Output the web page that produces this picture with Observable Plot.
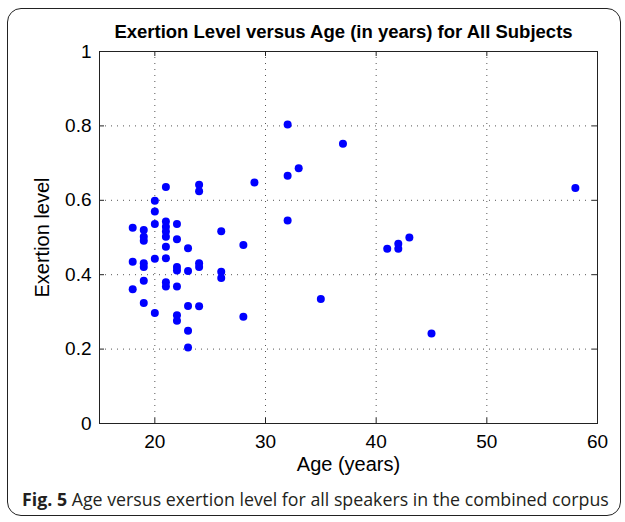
<!DOCTYPE html>
<html><head><meta charset="utf-8">
<script src="https://cdn.jsdelivr.net/npm/d3@7"></script>
<script src="https://cdn.jsdelivr.net/npm/@observablehq/plot@0.6"></script>
<style>
body{margin:0;background:#fff;}
#wrap{position:relative;width:625px;height:522px;overflow:hidden;font-family:"Liberation Sans",Arial,sans-serif;}
#box{position:absolute;left:7px;top:8px;width:614px;height:508px;border:1.5px solid #222;border-radius:14px;box-sizing:border-box;}
#title{position:absolute;left:80px;width:527px;top:21px;line-height:22px;text-align:center;font-weight:bold;font-size:18.5px;color:#000;white-space:nowrap;}
#plot{position:absolute;left:0;top:40px;}
#caption{position:absolute;left:22px;top:486px;line-height:26px;font-family:"Open Sans",sans-serif;font-size:17.8px;color:#231f20;white-space:nowrap;}
#caption b{font-weight:bold;}
</style></head>
<body><div id="wrap"><div id="box"></div>
<div id="title">Exertion Level versus Age (in years) for All Subjects</div>
<div id="plot"></div>
<div id="caption"><b>Fig. 5</b> Age versus exertion level for all speakers in the combined corpus</div>
</div>
<script>
const ages   = [21,24,24,20,20,20,21,21,21,22,18,19,19,19,21,22,26,21,23,18,19,19,20,21,22,22,23,24,24,26,26,19,21,21,22,18,19,23,24,20,22,22,23,23,32,37,33,32,29,32,28,35,28,41,42,42,43,45,58];
const levels = [0.636,0.642,0.624,0.599,0.570,0.536,0.543,0.529,0.516,0.536,0.526,0.520,0.502,0.491,0.502,0.495,0.517,0.475,0.471,0.435,0.431,0.421,0.443,0.444,0.421,0.411,0.410,0.431,0.421,0.408,0.391,0.384,0.380,0.368,0.368,0.361,0.324,0.316,0.315,0.297,0.291,0.276,0.249,0.204,0.804,0.752,0.686,0.666,0.648,0.546,0.480,0.335,0.287,0.470,0.483,0.470,0.500,0.242,0.633];
const xTicks = [20,30,40,50,60];
const yTicks = [0,0.2,0.4,0.6,0.8,1];
const xGrid = [20,30,40,50];
const yGrid = [0.2,0.4,0.6,0.8];
const xLabel = "Age (years)";
const yLabel = "Exertion level";

const data = ages.map((a,i)=>({age:a, level:levels[i]}));
const W=625, H=438, mL=99, mR=28, mT=11, mB=55;
const innerH = H-mT-mB, innerW = W-mL-mR, tk=5;

const chart = Plot.plot({
  width:W, height:H, marginLeft:mL, marginRight:mR, marginTop:mT, marginBottom:mB,
  style:{fontFamily:"'Liberation Sans', Arial, sans-serif", background:"transparent", color:"#000"},
  x:{domain:[15,60], ticks:xTicks, label:null},
  y:{domain:[0,1], ticks:yTicks, label:null},
  marks:[
    Plot.ruleX(xGrid, {x:d=>d, stroke:"#555", strokeDasharray:"1,5", strokeWidth:1}),
    Plot.ruleY(yGrid, {y:d=>d, stroke:"#555", strokeDasharray:"1,5", strokeWidth:1}),
    Plot.axisX(xTicks, {tickSize:0, tickPadding:11, fontSize:19, tickFormat:d=>String(d), label:null}),
    Plot.axisY(yTicks, {tickSize:0, tickPadding:8, fontSize:19, tickFormat:d=>String(d), label:null}),
    Plot.tickX(xTicks, {x:d=>d, insetTop:innerH-tk, stroke:"#222"}),
    Plot.tickX(xTicks, {x:d=>d, insetBottom:innerH-tk, stroke:"#222"}),
    Plot.tickY(yTicks, {y:d=>d, insetRight:innerW-tk, stroke:"#222"}),
    Plot.tickY(yTicks, {y:d=>d, insetLeft:innerW-tk, stroke:"#222"}),
    Plot.frame({stroke:"#222", strokeWidth:1}),
    Plot.dot(data, {x:"age", y:"level", r:4, fill:"#0000ff"}),
    Plot.text([xLabel], {text:d=>d, frameAnchor:"bottom", dy:47, fontSize:20, fill:"#000"}),
    Plot.text([yLabel], {text:d=>d, frameAnchor:"left", textAnchor:"middle", dx:-57, rotate:-90, fontSize:20, fill:"#000"})
  ]
});
document.getElementById("plot").appendChild(chart);
</script>
</body></html>
